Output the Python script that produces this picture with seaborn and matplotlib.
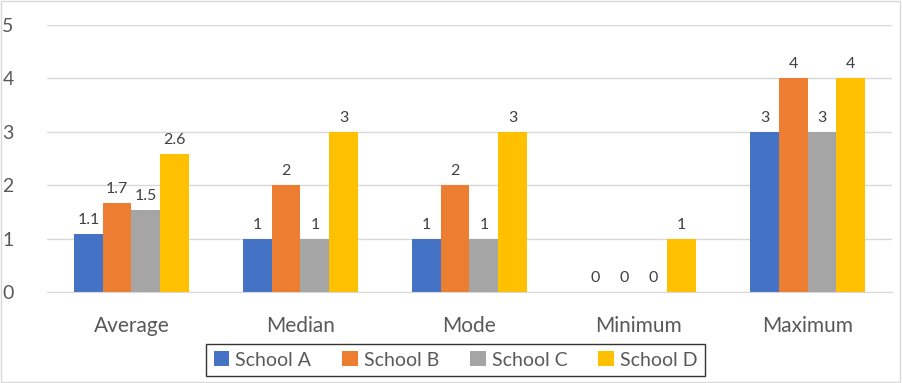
import pandas as pd
import matplotlib
matplotlib.use("Agg")
import matplotlib.pyplot as plt
import seaborn as sns
from matplotlib.patches import Rectangle

stats = ["Average", "Median", "Mode", "Minimum", "Maximum"]
schools = ["School A", "School B", "School C", "School D"]
school_a = [1.08, 1, 1, 0, 3]
school_b = [1.67, 2, 2, 0, 4]
school_c = [1.54, 1, 1, 0, 3]
school_d = [2.58, 3, 3, 1, 4]
colors = ["#4472C4", "#ED7D31", "#A5A5A5", "#FFC000"]

rows = []
for name, vals in zip(schools, [school_a, school_b, school_c, school_d]):
    for s, v in zip(stats, vals):
        rows.append({"stat": s, "school": name, "value": v})
df = pd.DataFrame(rows)

sns.set_style("white")
plt.rcParams["font.family"] = ["Lato", "DejaVu Sans"]

fig = plt.figure(figsize=(9.02, 3.83), dpi=100)
ax = fig.add_axes([0.052, 0.2376, 0.937, 0.697])

sns.barplot(data=df, x="stat", y="value", hue="school", palette=colors,
            width=0.68, saturation=1, linewidth=0, ax=ax, legend=True)

# data labels: one decimal for averages, plain integers otherwise
for cont in ax.containers:
    labels = []
    for bar in cont:
        h = bar.get_height()
        labels.append(f"{h:.0f}" if float(h).is_integer() else f"{h:.1f}")
    ax.bar_label(cont, labels=labels, padding=5, fontsize=11.5, color="#404040")

ax.set_ylim(0, 5)
ax.set_xlim(-0.5, 4.5)
ax.set_yticks(range(6))
ax.yaxis.grid(True, color="#D9D9D9", linewidth=1)
ax.set_axisbelow(True)
for sp in ["top", "right", "left"]:
    ax.spines[sp].set_visible(False)
ax.spines["bottom"].set_color("#D9D9D9")
ax.tick_params(axis="y", length=0, pad=24, labelsize=14, labelcolor="#595959")
ax.tick_params(axis="x", length=0, pad=17, labelsize=15, labelcolor="#595959")
ax.set_xlabel("")
ax.set_ylabel("")

ax.legend(loc="center", bbox_to_anchor=(0.505, 0.06), bbox_transform=fig.transFigure,
          ncol=4, frameon=True, fancybox=False, edgecolor="black", fontsize=14,
          handlelength=0.8, handleheight=0.8, handletextpad=0.3, columnspacing=1.6,
          borderpad=0.4, labelcolor="#595959")
ax.get_legend().get_frame().set_linewidth(1)

fig.patches.append(Rectangle((0.001, 0.002), 0.997, 0.995, transform=fig.transFigure,
                             fill=False, edgecolor="#D9D9D9", linewidth=1))

fig.savefig("out.png", dpi=100)
